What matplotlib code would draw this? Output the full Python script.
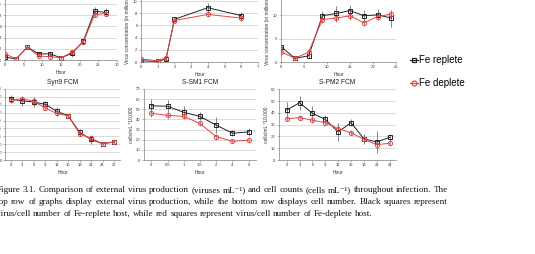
import numpy as np
import matplotlib
matplotlib.use('Agg')
import matplotlib.pyplot as plt
from matplotlib.lines import Line2D

W, H, DPI = 535, 254, 100

# ---- top row: virus concentration (millions/mL) ----
syn9_vir_hour = [0, 3, 6, 9, 12, 15, 18, 21, 24, 27]
syn9_vir_rep = [0.5, 0.2, 2.3, 1.1, 1.1, 0.4, 1.2, 3.4, 8.7, 8.5]
syn9_vir_rep_err = [0.3, 0.1, 0.4, 0.3, 0.4, 0.2, 0.6, 0.4, 0.8, 0.7]
syn9_vir_dep = [1.1, 0.2, 2.3, 0.7, 0.6, 0.4, 1.4, 3.2, 8.1, 8.3]
syn9_vir_dep_err = [0.2, 0.1, 0.2, 0.2, 0.2, 0.1, 0.3, 0.5, 0.4, 0.4]

sm1_vir_hour = [0, 1, 1.5, 2, 4, 6]
sm1_vir_rep = [0.2, 0.1, 0.5, 7.0, 8.9, 7.6]
sm1_vir_rep_err = [0.1, 0.1, 0.1, 0.2, 0.7, 0.6]
sm1_vir_dep = [0.5, 0.2, 0.7, 6.8, 7.8, 7.2]
sm1_vir_dep_err = [0.1, 0.1, 0.1, 0.2, 0.5, 0.4]

pm2_vir_hour = [0, 3, 6, 9, 12, 15, 18, 21, 24]
pm2_vir_rep = [3.3, 0.8, 1.3, 9.9, 10.4, 11.0, 9.9, 10.1, 9.4]
pm2_vir_rep_err = [0.5, 0.3, 0.4, 1.0, 1.6, 1.3, 1.3, 1.2, 1.8]
pm2_vir_dep = [2.2, 0.8, 2.1, 9.1, 9.4, 9.9, 8.4, 9.7, 10.3]
pm2_vir_dep_err = [0.4, 0.2, 0.5, 0.7, 0.8, 0.8, 0.7, 0.6, 0.6]

# ---- bottom row: cell counts (cells/mL *10,000) ----
syn9_cell_hour = ['0', '3', '6', '9', '12', '15', '18', '21', '24', '27']
syn9_cell_rep = [77, 75, 73.5, 70.6, 61.7, 56, 35, 26, 20.7, 22.8]
syn9_cell_rep_err = [5, 6, 6, 4, 6, 2, 4, 6, 2, 3]
syn9_cell_dep = [76, 77.7, 74.3, 66, 59, 56, 33.4, 27.4, 20.7, 22.8]
syn9_cell_dep_err = [2, 2, 2, 2, 2, 2, 2, 2, 2, 2]

sm1_cell_hour = ['0', '0.5', '1', '1.5', '2', '4', '6']
sm1_cell_rep = [53.4, 53, 47, 43, 34.4, 26.4, 27.7]
sm1_cell_rep_err = [7, 6, 6, 4, 8, 3, 4]
sm1_cell_dep = [46, 44, 43, 36, 23, 18.5, 19.5]
sm1_cell_dep_err = [4, 4, 3, 2, 3, 2, 3]

pm2_cell_hour = ['0', '3', '6', '9', '12', '15', '18', '21', '24']
pm2_cell_rep = [42.4, 48.6, 39.6, 34.5, 23.8, 31.7, 18, 15.3, 19.2]
pm2_cell_rep_err = [7, 6, 6, 4, 8, 3, 4, 9, 3]
pm2_cell_dep = [35, 36, 33.7, 31.7, 26.6, 23.2, 17.5, 13, 14.2]
pm2_cell_dep_err = [2, 2, 2, 2, 3, 2, 2, 2, 2]

BLACK = '#222222'
RED = '#e84444'

plt.rcParams['font.family'] = ['Liberation Sans', 'DejaVu Sans']

fig = plt.figure(figsize=(W / DPI, H / DPI), dpi=DPI)


def place(l, r, t, b):
    # pixel box (from top-left) -> figure fraction
    return fig.add_axes([l / W, 1 - b / H, (r - l) / W, (b - t) / H])


def style(ax, yticks):
    ax.set_yticks(yticks)
    ax.yaxis.grid(True, color='#d4d4d4', lw=0.6)
    ax.set_axisbelow(True)
    for s in ['top', 'right']:
        ax.spines[s].set_visible(False)
    for s in ['left', 'bottom']:
        ax.spines[s].set_color('#808080')
        ax.spines[s].set_linewidth(0.5)
    ax.tick_params(labelsize=3, length=1.5, width=0.4, pad=1, colors='#808080',
                   labelcolor='#333333')
    ax.set_xlabel('Hour', fontsize=3.5, labelpad=1.5, color='#333333')


def draw(ax, x, rep, rep_err, dep, dep_err):
    ax.errorbar(x, rep, yerr=rep_err, fmt='none', ecolor='#555555', elinewidth=0.5, capsize=0)
    ax.errorbar(x, dep, yerr=dep_err, fmt='none', ecolor='#777777', elinewidth=0.5, capsize=0)
    ax.plot(x, rep, color=BLACK, lw=0.7, marker='s', ms=3, mfc='none', mec=BLACK, mew=0.7)
    ax.plot(x, dep, color=RED, lw=0.7, marker='o', ms=3, mfc='none', mec=RED, mew=0.7)


# top row
ax1 = place(5, 117, 60 - 12 * 5.6, 60)
draw(ax1, syn9_vir_hour, syn9_vir_rep, syn9_vir_rep_err, syn9_vir_dep, syn9_vir_dep_err)
ax1.set_xlim(0, 30)
ax1.set_xticks(range(0, 31, 5))
ax1.set_ylim(0, 12)
style(ax1, range(0, 13, 2))

ax2 = place(141, 258, 62 - 12 * 6.1, 62)
draw(ax2, sm1_vir_hour, sm1_vir_rep, sm1_vir_rep_err, sm1_vir_dep, sm1_vir_dep_err)
ax2.set_xlim(0, 7)
ax2.set_xticks(range(0, 8))
ax2.set_ylim(0, 12)
style(ax2, range(0, 13, 2))

ax3 = place(281, 396, 62 - 15 * 4.67, 62)
draw(ax3, pm2_vir_hour, pm2_vir_rep, pm2_vir_rep_err, pm2_vir_dep, pm2_vir_dep_err)
ax3.set_xlim(0, 25)
ax3.set_xticks(range(0, 26, 5))
ax3.set_ylim(0, 15)
style(ax3, range(0, 16, 5))

for ax in (ax1, ax2, ax3):
    ax.set_ylabel('Virus concentration (in millions/mL)', fontsize=3.5, labelpad=2, color='#333333')

# bottom row (categorical hours)
ax4 = place(5.3, 119.7, 89, 160)
draw(ax4, range(len(syn9_cell_hour)), syn9_cell_rep, syn9_cell_rep_err, syn9_cell_dep, syn9_cell_dep_err)
ax4.set_xticks(range(len(syn9_cell_hour)), syn9_cell_hour)
ax4.set_xlim(-0.5, len(syn9_cell_hour) - 0.5)
ax4.set_ylim(0, 90)
style(ax4, range(0, 91, 10))

ax5 = place(144, 256, 89, 160)
draw(ax5, range(len(sm1_cell_hour)), sm1_cell_rep, sm1_cell_rep_err, sm1_cell_dep, sm1_cell_dep_err)
ax5.set_xticks(range(len(sm1_cell_hour)), sm1_cell_hour)
ax5.set_xlim(-0.45, len(sm1_cell_hour) - 0.55)
ax5.set_ylim(0, 70)
style(ax5, range(0, 71, 10))

ax6 = place(279, 396, 89.3, 160)
draw(ax6, range(len(pm2_cell_hour)), pm2_cell_rep, pm2_cell_rep_err, pm2_cell_dep, pm2_cell_dep_err)
ax6.set_xticks(range(len(pm2_cell_hour)), pm2_cell_hour)
ax6.set_xlim(-0.6, len(pm2_cell_hour) - 0.5)
ax6.set_ylim(0, 60)
style(ax6, range(0, 61, 10))

for ax, title in ((ax4, 'Syn9 FCM'), (ax5, 'S-SM1 FCM'), (ax6, 'S-PM2 FCM')):
    ax.set_ylabel('cells/mL *10,000', fontsize=3.5, labelpad=2, color='#333333')
    ax.set_title(title, fontsize=4.8, pad=3.5, color='#222222')

# legend
handles = [Line2D([], [], color=BLACK, lw=0.8, marker='s', ms=3.5, mfc='none', mew=0.9),
           Line2D([], [], color=RED, lw=0.8, marker='o', ms=3.5, mfc='none', mew=0.9)]
fig.legend(handles, ['Fe replete', 'Fe deplete'], loc='upper left',
           bbox_to_anchor=(410 / W, 1 - 55 / H), frameon=False, fontsize=7,
           handlelength=0.8, handletextpad=0.15, labelspacing=1.35, borderaxespad=0,
           borderpad=0)

# caption, justified
caption = [
    "Figure 3.1. Comparison of external virus production (viruses mL\u207b\u00b9) and cell counts (cells mL\u207b\u00b9) throughout infection. The",
    "top row of graphs display external virus production, while the bottom row displays cell number. Black squares represent",
    "virus/cell number of Fe-replete host, while red squares represent virus/cell number of Fe-deplete host.",
]
r = fig.canvas.get_renderer()
cx0, cx1 = -3.5, 448
fs = 6.6
for i, line in enumerate(caption):
    words = line.split(' ')
    base = 192 + i * 12
    ts = [fig.text(0, 1 - base / H, w, fontsize=fs, family=['Liberation Serif', 'DejaVu Serif'],
                   va='baseline', ha='left', color='#111111') for w in words]
    ws = [t.get_window_extent(r).width for t in ts]
    if i < len(caption) - 1:
        gap = (cx1 - cx0 - sum(ws)) / (len(words) - 1)
    else:
        gap = fs * DPI / 72 * 0.25
    x = cx0
    for t, w in zip(ts, ws):
        t.set_x(x / W)
        x += w + gap

fig.savefig('out.png', dpi=DPI)
